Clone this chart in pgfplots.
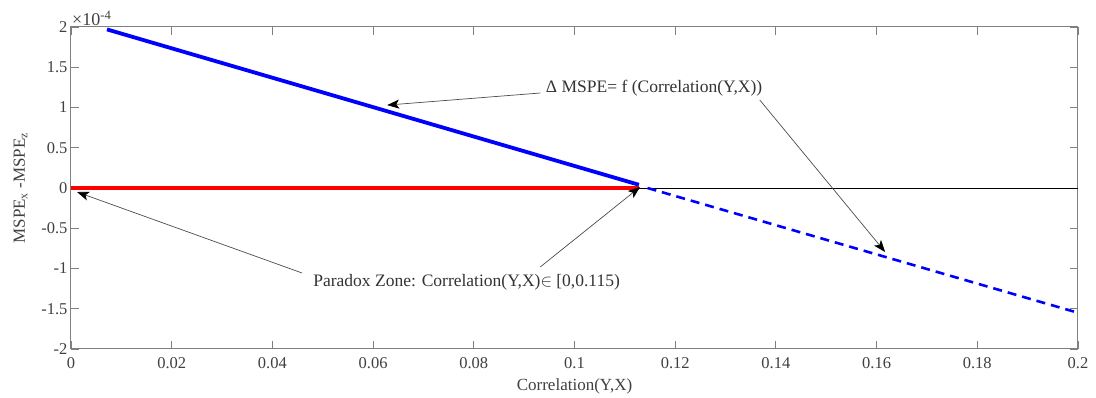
\documentclass[border=0pt]{standalone}
\usepackage{pgfplots}
\pgfplotsset{compat=1.18}
\usepackage{fontspec}
\setmainfont{Liberation Serif}
\usetikzlibrary{arrows.meta}
\begin{document}
\begin{tikzpicture}
\begin{axis}[
  scale only axis, width=1007pt, height=322pt,
  at={(0,0)}, anchor=south west,
  xmin=0, xmax=0.2, ymin=-2, ymax=2,
  xtick={0,0.02,0.04,0.06,0.08,0.1,0.12,0.14,0.16,0.18,0.2},
  xticklabels={0,0.02,0.04,0.06,0.08,0.1,0.12,0.14,0.16,0.18,0.2},
  ytick={-2,-1.5,-1,-0.5,0,0.5,1,1.5,2},
  yticklabels={-2,-1.5,-1,-0.5,0,0.5,1,1.5,2},
  tick align=inside,
  axis line style={draw=black!50, line width=1pt},
  major tick length=8pt,
  tick style={black!50, line width=0.8pt},
  ticklabel style={font=\fontsize{16.5}{18}\selectfont, text=black!75},
  xticklabel style={yshift=-5pt},
  label style={font=\fontsize{17}{19}\selectfont, text=black!75},
  xlabel={Correlation(Y,X)},
  ylabel={MSPE\textsubscript{x} -MSPE\textsubscript{z}},
  xlabel style={yshift=-3pt},
  ylabel style={yshift=7pt},
  clip=false,
]
% zero reference line
\addplot[black, line width=0.8pt] coordinates {(0,0) (0.2,0)};
% paradox zone (red)
\addplot[red, line width=3.8pt] coordinates {(0,0) (0.1128,0)};
% Delta MSPE, solid part
\addplot[blue, line width=3.8pt] coordinates {(0.00715,1.97) (0.1128,0.04)};
% Delta MSPE, dashed part
\addplot[blue, line width=2.6pt, dash pattern=on 9pt off 6pt] coordinates {(0.1145,0.0) (0.2,-1.55)};

% annotations
\node[anchor=west, font=\fontsize{17.5}{19}\selectfont, text=black!80, inner sep=0pt] at (axis cs:0.0943,1.242) {Δ MSPE= f (Correlation(Y,X))};
\draw[black!70, line width=0.7pt, -{Stealth[length=12pt,width=9pt,inset=3pt,black]}] (axis cs:0.0932,1.18) -- (axis cs:0.0628,1.03);
\draw[black!70, line width=0.7pt, -{Stealth[length=12pt,width=9pt,inset=3pt,black]}] (axis cs:0.1368,1.093) -- (axis cs:0.1617,-0.795);

\node[anchor=west, font=\fontsize{17.5}{19}\selectfont, text=black!80, inner sep=0pt] at (axis cs:0.0481,-1.168) {Paradox Zone: Correlation(Y,X)$\in$ [0,0.115)};
\draw[black!70, line width=0.7pt, -{Stealth[length=12pt,width=9pt,inset=3pt,black]}] (axis cs:0.0459,-1.056) -- (axis cs:0.0012,-0.05);
\draw[black!70, line width=0.7pt, -{Stealth[length=12pt,width=9pt,inset=3pt,black]}] (axis cs:0.0932,-0.981) -- (axis cs:0.1130,0.012);

\node[anchor=south west, font=\fontsize{18}{20}\selectfont, text=black!75, inner sep=1pt] at (axis cs:0,2) {×10\textsuperscript{-4}};
\end{axis}
\pgfresetboundingbox
\path[use as bounding box] (-71pt,-49pt) rectangle (1025pt,349pt);
\end{tikzpicture}
\end{document}
